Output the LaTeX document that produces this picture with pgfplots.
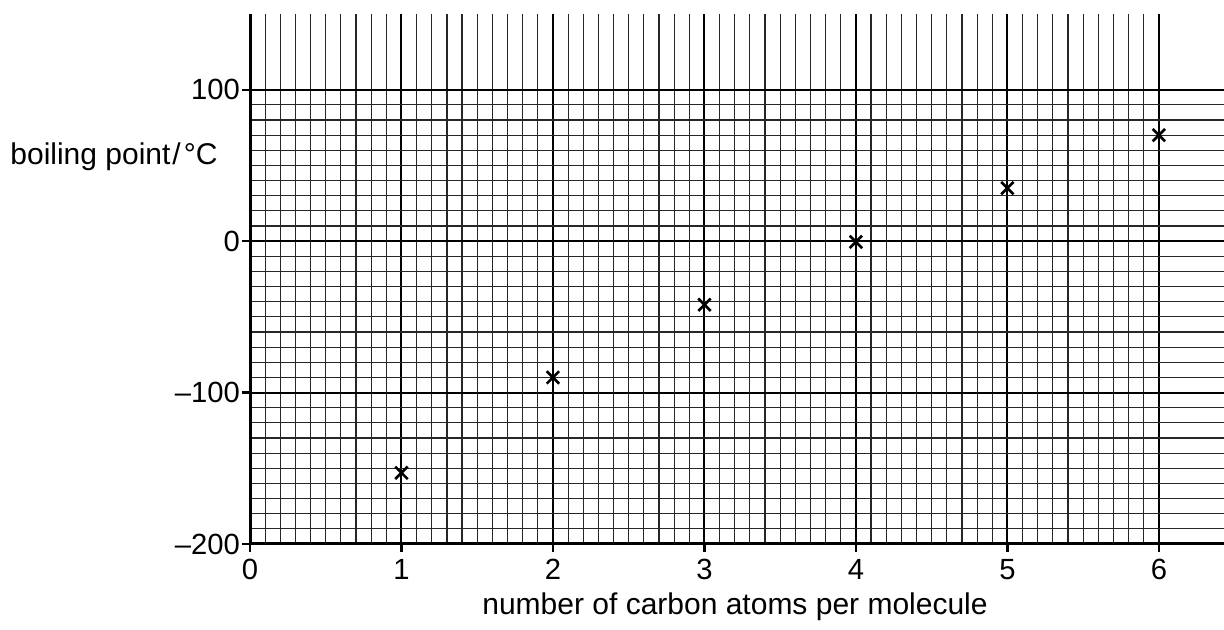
\documentclass[border=0pt]{standalone}
\usepackage{fontspec}
\setmainfont{Liberation Sans}
\usepackage{pgfplots}
\pgfplotsset{compat=1.18}
\begin{document}
\begin{tikzpicture}
\begin{axis}[
  at={(0,0)}, anchor=south west,
  scale only axis, width=487pt, height=265pt,
  xmin=0, xmax=6.43, ymin=-200, ymax=150,
  axis lines*=left,
  axis line style={line width=1.5pt},
  xtick={0,1,2,3,4,5,6}, ytick={-200,-100,0,100},
  xticklabels={0,1,2,3,4,5,6},
  yticklabels={–200,–100,0,100},
  minor x tick num=9, minor y tick num=9,
  grid=both,
  major grid style={black, line width=1pt},
  minor grid style={black!85, line width=0.6pt},
  tick align=outside,
  major tick length=4pt, minor tick length=0pt,
  tick style={black, line width=1.2pt},
  ticklabel style={font=\fontsize{14.6}{17}\selectfont},
  yticklabel style={xshift=2.5pt},
  xticklabel style={yshift=0pt},
]
\addplot[only marks, mark=x, mark size=4.4pt, line width=1.3pt, black]
  coordinates {(1,-153) (2,-90) (3,-42) (4,-0.5) (5,35) (6,70)};
\end{axis}
\node[anchor=west, inner sep=0pt, font=\fontsize{15}{18}\selectfont] at (-120pt,193.5pt) {boiling point\kern1pt/\kern1.5pt°C};
\node[inner sep=0pt, font=\fontsize{15}{18}\selectfont] at (242.5pt,-31.5pt) {number of carbon atoms per molecule};
\pgfresetboundingbox
\path[use as bounding box] (-125pt,-43pt) rectangle (487pt,272pt);
\end{tikzpicture}
\end{document}
